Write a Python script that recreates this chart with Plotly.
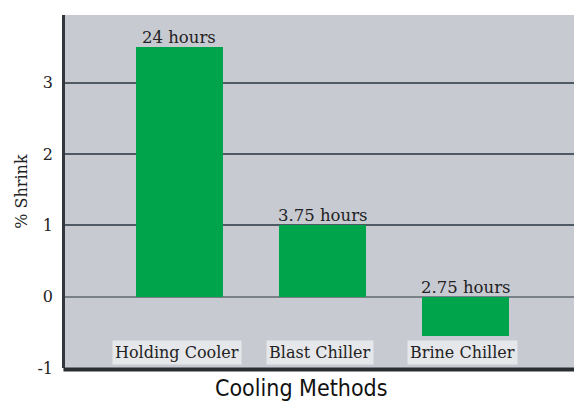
import plotly.graph_objects as go

categories = ["Holding Cooler", "Blast Chiller", "Brine Chiller"]
shrink = [3.5, 1.0, -0.55]
time_labels = ["24 hours", "3.75 hours", "2.75 hours"]
x_title = "Cooling Methods"
y_title = "% Shrink"
y_ticks = [-1, 0, 1, 2, 3, 4]

serif = "DejaVu Serif, Liberation Serif, serif"
xs = list(range(len(categories)))

fig = go.Figure()
fig.add_trace(go.Bar(
    x=xs, y=shrink, width=0.61,
    marker=dict(color="#00a54b", line=dict(width=0)),
    hoverinfo="skip",
))

annotations = []
for i, (v, t) in enumerate(zip(shrink, time_labels)):
    annotations.append(dict(
        x=i, y=max(v, 0), xref="x", yref="y", text=t, showarrow=False,
        yanchor="bottom", yshift=-2,
        font=dict(family=serif, size=16.5, color="#222222"),
    ))
for i, c in enumerate(categories):
    annotations.append(dict(
        x=i - 0.02, y=-0.78, xref="x", yref="y", text=c, showarrow=False,
        yanchor="middle", xanchor="center",
        bgcolor="#e6e7ea", borderpad=2,
        font=dict(family=serif, size=16, color="#222222"),
    ))
annotations.append(dict(
    x=0.46, y=-0.015, xref="paper", yref="paper", text=x_title, showarrow=False,
    yanchor="top",
    font=dict(family="Liberation Sans Narrow, DejaVu Sans Condensed, Arial Narrow, sans-serif",
              size=23, color="#111111"),
))
annotations.append(dict(
    x=-0.085, y=0.5, xref="paper", yref="paper", text=y_title, showarrow=False,
    textangle=-90, xanchor="center", yanchor="middle",
    font=dict(family=serif, size=16, color="#222222"),
))
fig.update_layout(
    width=574, height=399,
    margin=dict(l=57, r=2, t=7, b=39),
    paper_bgcolor="white",
    plot_bgcolor="#c8cad2",
    showlegend=False,
    bargap=0,
    annotations=annotations,
    xaxis=dict(
        range=[-0.8, 2.8], showticklabels=False, ticks="", showgrid=False,
        zeroline=False, showline=False,
    ),
    yaxis=dict(
        range=[-1, 3.95], tickvals=y_ticks, ticktext=[str(v) for v in y_ticks],
        showgrid=True, gridcolor="#505a64", gridwidth=1.5,
        zeroline=True, zerolinecolor="#7a8088", zerolinewidth=2,
        showline=True, linecolor="#33373c", linewidth=2.5,
        ticks="", tickfont=dict(family=serif, size=16, color="#222222"),
        ticklabelstandoff=6,
    ),
    shapes=[
        dict(type="line", xref="paper", yref="paper", x0=-0.003, x1=1, y0=-0.004, y1=-0.004,
             line=dict(color="#2a2e33", width=4)),
        dict(type="line", xref="paper", yref="paper", x0=1, x1=1, y0=0, y1=1,
             line=dict(color="#555b62", width=1)),
    ],
)
fig.write_html("out.html")
